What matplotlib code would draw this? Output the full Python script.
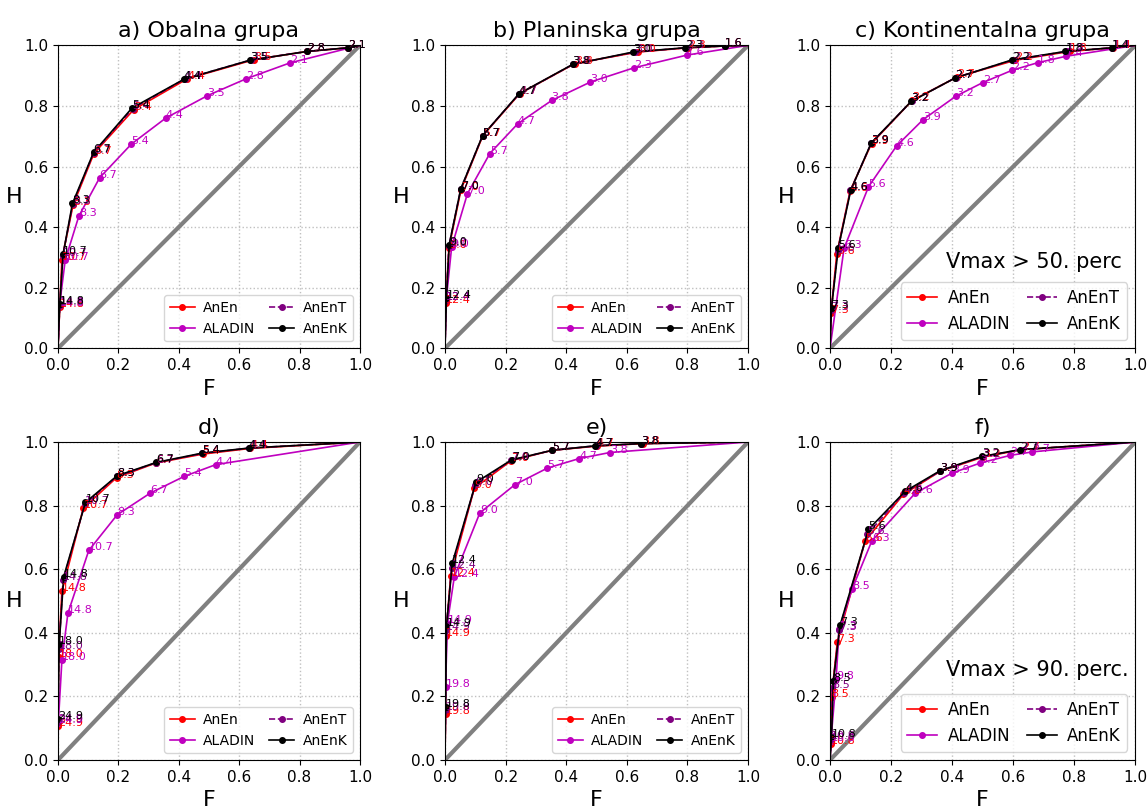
import matplotlib
matplotlib.use('Agg')
import matplotlib.pyplot as plt

# a) Obalna grupa
A_TH = ['14.8', '10.7', '8.3', '6.7', '5.4', '4.4', '3.5', '2.8', '2.1']
A_ANEN_F = [0.006, 0.013, 0.050, 0.119, 0.251, 0.429, 0.650, 0.826, 0.962]
A_ANEN_H = [0.137, 0.293, 0.473, 0.643, 0.788, 0.890, 0.953, 0.980, 0.992]
A_ALADIN_F = [0.005, 0.024, 0.069, 0.138, 0.243, 0.357, 0.495, 0.624, 0.768]
A_ALADIN_H = [0.140, 0.291, 0.436, 0.563, 0.674, 0.760, 0.834, 0.890, 0.942]
A_ANENT_F = [0.006, 0.016, 0.049, 0.118, 0.247, 0.420, 0.640, 0.825, 0.961]
A_ANENT_H = [0.143, 0.305, 0.476, 0.645, 0.791, 0.889, 0.952, 0.980, 0.992]
A_ANENK_F = [0.006, 0.017, 0.048, 0.118, 0.245, 0.417, 0.636, 0.825, 0.961]
A_ANENK_H = [0.146, 0.311, 0.478, 0.647, 0.793, 0.888, 0.951, 0.980, 0.992]

# b) Planinska grupa
B_TH = ['12.4', '9.0', '7.0', '5.7', '4.7', '3.8', '3.0', '2.3', '1.6']
B_ANEN_F = [0.003, 0.013, 0.053, 0.125, 0.247, 0.429, 0.637, 0.802, 0.923]
B_ANEN_H = [0.151, 0.331, 0.524, 0.702, 0.841, 0.940, 0.978, 0.992, 0.998]
B_ALADIN_F = [0.004, 0.022, 0.074, 0.148, 0.240, 0.352, 0.480, 0.624, 0.799]
B_ALADIN_H = [0.158, 0.334, 0.510, 0.643, 0.741, 0.818, 0.879, 0.926, 0.968]
B_ANENT_F = [0.004, 0.013, 0.052, 0.124, 0.245, 0.424, 0.628, 0.795, 0.923]
B_ANENT_H = [0.160, 0.338, 0.525, 0.702, 0.840, 0.938, 0.978, 0.992, 0.998]
B_ANENK_F = [0.005, 0.014, 0.052, 0.124, 0.244, 0.421, 0.621, 0.791, 0.923]
B_ANENK_H = [0.165, 0.342, 0.526, 0.702, 0.840, 0.937, 0.978, 0.992, 0.998]

# c) Kontinentalna grupa
C_TH = ['7.3', '5.6', '4.6', '3.9', '3.2', '2.7', '2.2', '1.8', '1.4']
C_ALADIN_TH = ['6.3', '5.6', '4.6', '3.9', '3.2', '2.7', '2.2', '1.8', '1.4']
C_ANEN_F = [0.003, 0.022, 0.066, 0.136, 0.269, 0.415, 0.607, 0.785, 0.928]
C_ANEN_H = [0.115, 0.311, 0.520, 0.676, 0.818, 0.895, 0.951, 0.980, 0.992]
C_ALADIN_F = [0.046, 0.126, 0.218, 0.305, 0.412, 0.500, 0.597, 0.681, 0.773]
C_ALADIN_H = [0.330, 0.533, 0.668, 0.755, 0.832, 0.877, 0.918, 0.943, 0.964]
C_ANENT_F = [0.004, 0.025, 0.067, 0.135, 0.267, 0.411, 0.600, 0.776, 0.925]
C_ANENT_H = [0.125, 0.322, 0.521, 0.677, 0.816, 0.893, 0.952, 0.980, 0.992]
C_ANENK_F = [0.005, 0.027, 0.068, 0.135, 0.266, 0.409, 0.596, 0.771, 0.923]
C_ANENK_H = [0.134, 0.330, 0.522, 0.678, 0.815, 0.892, 0.952, 0.980, 0.992]

# d)
D_TH = ['24.9', '18.0', '14.8', '10.7', '8.3', '6.7', '5.4', '4.4']
D_ANEN_F = [0.000, 0.002, 0.013, 0.084, 0.194, 0.324, 0.479, 0.637]
D_ANEN_H = [0.107, 0.325, 0.530, 0.792, 0.888, 0.934, 0.962, 0.980]
D_ALADIN_F = [0.001, 0.013, 0.033, 0.102, 0.196, 0.305, 0.418, 0.523]
D_ALADIN_H = [0.115, 0.314, 0.462, 0.659, 0.771, 0.839, 0.892, 0.929]
D_ANENT_F = [0.000, 0.003, 0.017, 0.089, 0.195, 0.325, 0.478, 0.634]
D_ANENT_H = [0.120, 0.350, 0.565, 0.805, 0.892, 0.935, 0.964, 0.981]
D_ANENK_F = [0.000, 0.004, 0.019, 0.091, 0.196, 0.326, 0.477, 0.632]
D_ANENK_H = [0.128, 0.364, 0.577, 0.810, 0.894, 0.936, 0.965, 0.981]

# e)
E_TH = ['19.8', '14.9', '12.4', '9.0', '7.0', '5.7', '4.7', '3.8']
E_ANEN_F = [0.002, 0.003, 0.019, 0.097, 0.218, 0.354, 0.500, 0.652]
E_ANEN_H = [0.145, 0.390, 0.580, 0.855, 0.941, 0.974, 0.987, 0.995]
E_ALADIN_F = [0.002, 0.008, 0.031, 0.115, 0.231, 0.338, 0.443, 0.544]
E_ALADIN_H = [0.231, 0.430, 0.577, 0.777, 0.866, 0.918, 0.948, 0.967]
E_ANENT_F = [0.002, 0.004, 0.022, 0.100, 0.219, 0.354, 0.497, 0.648]
E_ANENT_H = [0.158, 0.410, 0.605, 0.866, 0.943, 0.974, 0.988, 0.995]
E_ANENK_F = [0.002, 0.005, 0.024, 0.102, 0.220, 0.354, 0.495, 0.646]
E_ANENK_H = [0.166, 0.420, 0.619, 0.873, 0.944, 0.974, 0.988, 0.995]

# f)
F_TH = ['10.8', '8.5', '7.3', '5.6', '4.6', '3.9', '3.2', '2.7']
F_ALADIN_TH = ['10.8', '9.8', '7.3', '8.5', '6.3', '4.6', '3.9', '3.2', '2.7', '2.7']
F_ANEN_F = [0.002, 0.005, 0.024, 0.115, 0.240, 0.361, 0.502, 0.628]
F_ANEN_H = [0.050, 0.197, 0.372, 0.689, 0.835, 0.908, 0.953, 0.976]
F_ALADIN_F = [0.003, 0.020, 0.030, 0.073, 0.137, 0.279, 0.399, 0.492, 0.590, 0.663]
F_ALADIN_H = [0.060, 0.255, 0.411, 0.539, 0.689, 0.839, 0.902, 0.934, 0.958, 0.969]
F_ANENT_F = [0.004, 0.008, 0.030, 0.122, 0.243, 0.360, 0.499, 0.625]
F_ANENT_H = [0.065, 0.226, 0.410, 0.710, 0.840, 0.908, 0.954, 0.976]
F_ANENK_F = [0.005, 0.011, 0.033, 0.126, 0.246, 0.361, 0.499, 0.623]
F_ANENK_H = [0.071, 0.249, 0.424, 0.725, 0.845, 0.910, 0.955, 0.976]


def plot_roc(ax, series, title, note=None, legend_size=10):
    ax.plot([0, 1], [0, 1], color='gray', lw=3)
    for name, f, h, th, color, ls in series:
        n = len(f)
        ax.plot([0] + f + [1], [0] + h + [1], ls, color=color, marker='.',
                ms=8, lw=1.2, markevery=list(range(1, n + 1)), label=name)
        for x, y, t in zip(f, h, th):
            ax.text(x, y, t, color=color, fontsize=8)
    ax.set_xlim(0, 1)
    ax.set_ylim(0, 1)
    ax.set_xticks([0, 0.2, 0.4, 0.6, 0.8, 1.0])
    ax.set_yticks([0, 0.2, 0.4, 0.6, 0.8, 1.0])
    ax.tick_params(labelsize=11)
    ax.grid(True, linestyle=':', color='silver', lw=1)
    ax.set_xlabel('F', fontsize=16)
    ax.set_ylabel('H', fontsize=16, rotation=0, labelpad=7, va='center')
    ax.set_title(title, fontsize=16)
    ax.legend(loc='lower right', ncol=2, fontsize=legend_size,
              handlelength=1.8, columnspacing=1.0, handletextpad=0.6)
    if note:
        ax.text(0.38, 0.265, note, fontsize=15)


fig = plt.figure(figsize=(11.48, 8.10), dpi=100)
lefts = [0.0505, 0.3876, 0.723]
widths = [0.263, 0.264, 0.266]

panels = [
    (A_TH, A_TH, A_ANEN_F, A_ANEN_H, A_ALADIN_F, A_ALADIN_H, A_ANENT_F, A_ANENT_H,
     A_ANENK_F, A_ANENK_H, 'a) Obalna grupa', None),
    (B_TH, B_TH, B_ANEN_F, B_ANEN_H, B_ALADIN_F, B_ALADIN_H, B_ANENT_F, B_ANENT_H,
     B_ANENK_F, B_ANENK_H, 'b) Planinska grupa', None),
    (C_TH, C_ALADIN_TH, C_ANEN_F, C_ANEN_H, C_ALADIN_F, C_ALADIN_H, C_ANENT_F, C_ANENT_H,
     C_ANENK_F, C_ANENK_H, 'c) Kontinentalna grupa', 'Vmax > 50. perc'),
    (D_TH, D_TH, D_ANEN_F, D_ANEN_H, D_ALADIN_F, D_ALADIN_H, D_ANENT_F, D_ANENT_H,
     D_ANENK_F, D_ANENK_H, 'd)', None),
    (E_TH, E_TH, E_ANEN_F, E_ANEN_H, E_ALADIN_F, E_ALADIN_H, E_ANENT_F, E_ANENT_H,
     E_ANENK_F, E_ANENK_H, 'e)', None),
    (F_TH, F_ALADIN_TH, F_ANEN_F, F_ANEN_H, F_ALADIN_F, F_ALADIN_H, F_ANENT_F, F_ANENT_H,
     F_ANENK_F, F_ANENK_H, 'f)', 'Vmax > 90. perc.'),
]

for i, p in enumerate(panels):
    th, th_al, anf, anh, alf, alh, atf, ath, akf, akh, title, note = p
    row, col = divmod(i, 3)
    if row == 0:
        ax = fig.add_axes([lefts[col], 0.570, widths[col], 0.374])
    else:
        ax = fig.add_axes([lefts[col], 0.0617, widths[col], 0.3926])
    series = [
        ('AnEn', anf, anh, th, 'red', '-'),
        ('ALADIN', alf, alh, th_al, 'm', '-'),
        ('AnEnT', atf, ath, th, 'purple', '--'),
        ('AnEnK', akf, akh, th, 'black', '-'),
    ]
    plot_roc(ax, series, title, note, legend_size=12 if note else 10)

fig.savefig('out.png', dpi=100)
